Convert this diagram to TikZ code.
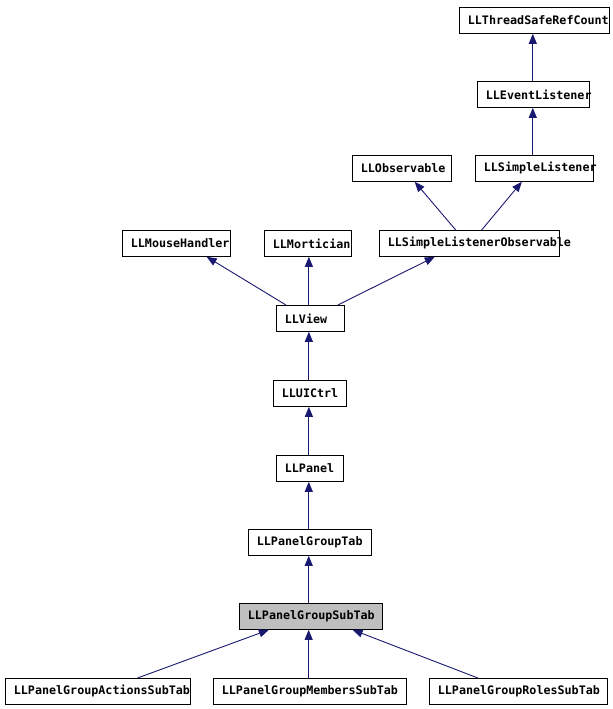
\documentclass[tikz,border=0pt]{standalone}
\usepackage{fontspec}
\setmonofont{DejaVu Sans Mono}
\usetikzlibrary{arrows.meta}
\definecolor{edgeblue}{HTML}{191970}
\definecolor{subgray}{HTML}{BFBFBF}
\newcommand{\clsbox}[2]{\makebox[#1bp][l]{\hspace{8.5bp}#2}}
\tikzset{
  cls/.style={draw=black, line width=0.8bp, inner sep=0pt, minimum height=26bp, anchor=north west,
    font=\ttfamily\bfseries\fontsize{11.7bp}{13bp}\selectfont},
  edge/.style={draw=edgeblue, line width=0.9bp, -{Triangle[length=10bp,width=8bp]}}
}
\begin{document}
\begin{tikzpicture}[x=1bp,y=-1bp]
\useasboundingbox (0,0) rectangle (613,709);
\node[cls] (tsrc) at (459,7) {\clsbox{150}{LLThreadSafeRefCount}};
\node[cls] (evl) at (477,81) {\clsbox{112}{LLEventListener}};
\node[cls] (sl) at (475,155) {\clsbox{118}{LLSimpleListener}};
\node[cls] (obs) at (352,155) {\clsbox{99}{LLObservable}};
\node[cls] (slo) at (379,230) {\clsbox{180}{LLSimpleListenerObservable}};
\node[cls] (mouse) at (122,230) {\clsbox{108}{LLMouseHandler}};
\node[cls] (mort) at (264,230) {\clsbox{87}{LLMortician}};
\node[cls] (view) at (276,305) {\clsbox{68}{LLView}};
\node[cls] (uictrl) at (273,380) {\clsbox{73}{LLUICtrl}};
\node[cls] (panel) at (276,455) {\clsbox{67}{LLPanel}};
\node[cls] (pgt) at (248,529) {\clsbox{123}{LLPanelGroupTab}};
\node[cls, fill=subgray] (sub) at (239,603) {\clsbox{143}{LLPanelGroupSubTab}};
\node[cls] (act) at (5,678) {\clsbox{185}{LLPanelGroupActionsSubTab}};
\node[cls] (mem) at (213,678) {\clsbox{193}{LLPanelGroupMembersSubTab}};
\node[cls] (roles) at (429,678) {\clsbox{178}{LLPanelGroupRolesSubTab}};

\draw[edge] ([xshift=56]evl.north west) -- ([xshift=56]evl.north west |- tsrc.south);
\draw[edge] ([xshift=58]sl.north west) -- ([xshift=58]sl.north west |- evl.south);
\draw[edge] ([xshift=77]slo.north west) -- ([xshift=63]obs.south west);
\draw[edge] ([xshift=103]slo.north west) -- ([xshift=47]sl.south west);
\draw[edge] ([xshift=10]view.north west) -- ([xshift=85]mouse.south west);
\draw[edge] ([xshift=33]view.north west) -- ([xshift=33]view.north west |- mort.south);
\draw[edge] ([xshift=62]view.north west) -- ([xshift=56]slo.south west);
\draw[edge] ([xshift=36]uictrl.north west) -- ([xshift=36]uictrl.north west |- view.south);
\draw[edge] ([xshift=33]panel.north west) -- ([xshift=33]panel.north west |- uictrl.south);
\draw[edge] ([xshift=61]pgt.north west) -- ([xshift=61]pgt.north west |- panel.south);
\draw[edge] ([xshift=70]sub.north west) -- ([xshift=70]sub.north west |- pgt.south);
\draw[edge] ([xshift=133]act.north west) -- ([xshift=30]sub.south west);
\draw[edge] ([xshift=96]mem.north west) -- ([xshift=96]mem.north west |- sub.south);
\draw[edge] ([xshift=49]roles.north west) -- ([xshift=114]sub.south west);
\end{tikzpicture}
\end{document}
